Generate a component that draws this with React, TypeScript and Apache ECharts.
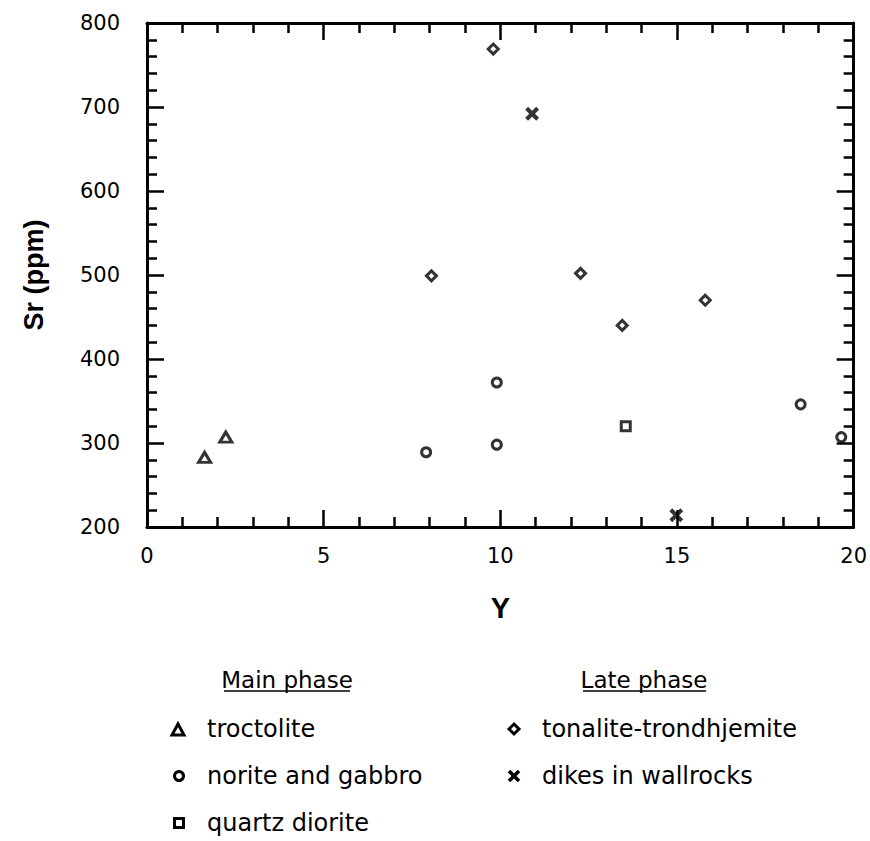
import { useEffect, useRef } from "react";
import * as echarts from "echarts";

// ---- data (Y vs Sr ppm) ----
const troctolite: [number, number][] = [
  [1.63, 283],
  [2.23, 307],
];
const noriteGabbro: [number, number][] = [
  [7.9, 289],
  [9.9, 298],
  [9.9, 372],
  [18.5, 346],
  [19.65, 307],
];
const quartzDiorite: [number, number][] = [[13.55, 320]];
const tonaliteTrondhjemite: [number, number][] = [
  [9.8, 769],
  [8.05, 499],
  [12.27, 502],
  [13.45, 440],
  [15.8, 470],
];
const dikesInWallrocks: [number, number][] = [
  [10.9, 692],
  [14.98, 214],
];

const xRange = { min: 0, max: 20, interval: 5 };
const yRange = { min: 200, max: 800, interval: 100 };
const mainPhaseLabels = ["troctolite", "norite and gabbro", "quartz diorite"];
const latePhaseLabels = ["tonalite-trondhjemite", "dikes in wallrocks"];

const TICK_FONT = "DejaVu Sans";
const LEG_FONT = "DejaVu Sans";
const LEG_SIZE = 24;
const HEAD_SIZE = 23;

export default function App() {
  const ref = useRef<HTMLDivElement>(null);

  useEffect(() => {
    if (!ref.current) return;
    const chart = echarts.init(ref.current, undefined, { renderer: "svg" });

    const axisLine = { show: true, onZero: false, lineStyle: { color: "#000", width: 3 } };
    const axisTick = { show: true, inside: true, length: 17, lineStyle: { color: "#000", width: 2.5 } };
    const minorTick = { show: true, splitNumber: 5, length: 10, lineStyle: { color: "#000", width: 2.5 } };

    const hollow = { color: "#fff", borderColor: "#000", borderWidth: 3 };

    const rowY = [729, 776, 823];
    const mainX = 178;
    const lateX = 514;
    const textMainX = 207;
    const textLateX = 542;

    const legendText = (x: number, y: number, text: string) => ({
      type: "text",
      x,
      y,
      style: {
        text,
        font: `${LEG_SIZE}px '${LEG_FONT}'`,
        fill: "#000",
        verticalAlign: "middle",
        align: "left",
      },
    });

    const graphic: any[] = [
      // headers
      {
        type: "text",
        x: 287,
        y: 680,
        style: { text: "Main phase", font: `${HEAD_SIZE}px '${LEG_FONT}'`, fill: "#000", align: "center", verticalAlign: "middle" },
      },
      { type: "line", shape: { x1: 224, y1: 691, x2: 350, y2: 691 }, style: { stroke: "#000", lineWidth: 1.5 } },
      {
        type: "text",
        x: 644,
        y: 680,
        style: { text: "Late phase", font: `${HEAD_SIZE}px '${LEG_FONT}'`, fill: "#000", align: "center", verticalAlign: "middle" },
      },
      { type: "line", shape: { x1: 583, y1: 691, x2: 706, y2: 691 }, style: { stroke: "#000", lineWidth: 1.5 } },
      // main phase items
      {
        type: "polygon",
        shape: { points: [[mainX, rowY[0] - 5], [mainX + 6, rowY[0] + 6], [mainX - 6, rowY[0] + 6]] },
        style: { fill: "#fff", stroke: "#000", lineWidth: 3 },
      },
      legendText(textMainX, rowY[0], mainPhaseLabels[0]),
      { type: "circle", shape: { cx: mainX + 1, cy: rowY[1], r: 4.5 }, style: { fill: "#fff", stroke: "#000", lineWidth: 3 } },
      legendText(textMainX, rowY[1], mainPhaseLabels[1]),
      { type: "rect", shape: { x: mainX - 3.5, y: rowY[2] - 4.5, width: 9, height: 9 }, style: { fill: "#fff", stroke: "#000", lineWidth: 3 } },
      legendText(textMainX, rowY[2], mainPhaseLabels[2]),
      // late phase items
      {
        type: "polygon",
        shape: { points: [[lateX, rowY[0] - 5], [lateX + 5, rowY[0]], [lateX, rowY[0] + 5], [lateX - 5, rowY[0]]] },
        style: { fill: "#fff", stroke: "#000", lineWidth: 3 },
      },
      legendText(textLateX, rowY[0], latePhaseLabels[0]),
      { type: "line", shape: { x1: lateX - 5, y1: rowY[1] - 5, x2: lateX + 5, y2: rowY[1] + 5 }, style: { stroke: "#000", lineWidth: 3.5 } },
      { type: "line", shape: { x1: lateX + 5, y1: rowY[1] - 5, x2: lateX - 5, y2: rowY[1] + 5 }, style: { stroke: "#000", lineWidth: 3.5 } },
      legendText(textLateX, rowY[1], latePhaseLabels[1]),
    ];

    chart.setOption({
      animation: false,
      backgroundColor: "#fff",
      grid: { left: 147, top: 23, width: 711, height: 504, containLabel: false },
      xAxis: [
        {
          type: "value",
          position: "bottom",
          ...xRange,
          axisLine,
          axisTick,
          minorTick,
          splitLine: { show: false },
          axisLabel: { color: "#000", fontFamily: TICK_FONT, fontSize: 21, margin: 18 },
          name: "Y",
          nameLocation: "middle",
          nameGap: 66,
          nameTextStyle: { color: "#000", fontFamily: "Liberation Sans", fontWeight: "bold", fontSize: 29 },
        },
        {
          type: "value",
          position: "top",
          ...xRange,
          axisLine,
          axisTick,
          minorTick,
          splitLine: { show: false },
          axisLabel: { show: false },
        },
      ],
      yAxis: [
        {
          type: "value",
          position: "left",
          ...yRange,
          axisLine,
          axisTick,
          minorTick,
          splitLine: { show: false },
          axisLabel: { color: "#000", fontFamily: TICK_FONT, fontSize: 21, margin: 27 },
          name: "Sr (ppm)",
          nameLocation: "middle",
          nameGap: 100,
          nameTextStyle: { color: "#000", fontFamily: "Liberation Sans", fontWeight: "bold", fontSize: 27 },
        },
        {
          type: "value",
          position: "right",
          ...yRange,
          axisLine,
          axisTick,
          minorTick,
          splitLine: { show: false },
          axisLabel: { show: false },
        },
      ],
      series: [
        { name: "troctolite", type: "scatter", data: troctolite, symbol: "triangle", symbolSize: [12, 10], itemStyle: hollow },
        { name: "norite and gabbro", type: "scatter", data: noriteGabbro, symbol: "circle", symbolSize: 9, itemStyle: hollow },
        { name: "quartz diorite", type: "scatter", data: quartzDiorite, symbol: "rect", symbolSize: 9, itemStyle: hollow },
        { name: "tonalite-trondhjemite", type: "scatter", data: tonaliteTrondhjemite, symbol: "diamond", symbolSize: 10, itemStyle: hollow },
        {
          name: "dikes in wallrocks",
          type: "scatter",
          data: dikesInWallrocks,
          symbol: "path://M0,0L10,10M10,0L0,10",
          symbolSize: 11,
          itemStyle: { color: "none", borderColor: "#000", borderWidth: 4 },
        },
      ],
      graphic,
    });

    return () => chart.dispose();
  }, []);

  return (
    <div
      ref={ref}
      style={{ position: "absolute", left: 0, top: 0, width: 870, height: 841, background: "#fff" }}
    />
  );
}
